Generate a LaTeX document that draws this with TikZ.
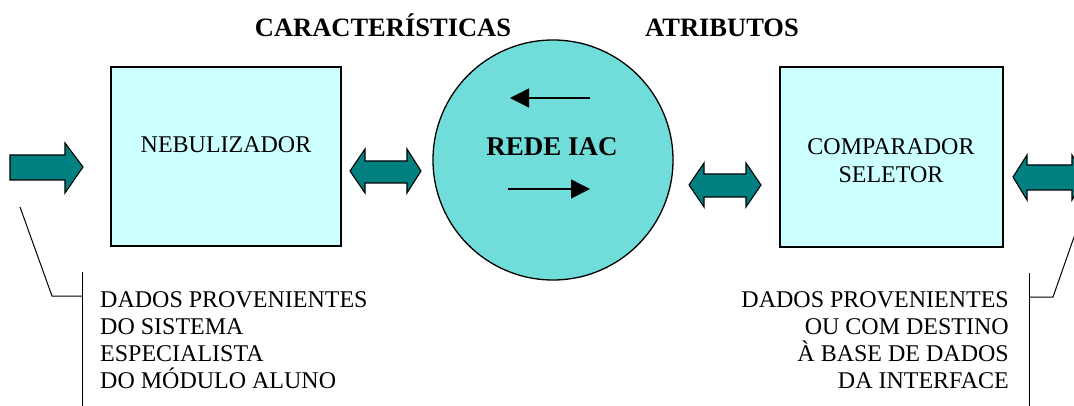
\documentclass[tikz,border=0pt]{standalone}
\usepackage{fontspec}
\setmainfont{Liberation Serif}
\usetikzlibrary{arrows.meta}
\definecolor{boxfill}{RGB}{204,255,255}
\definecolor{netfill}{RGB}{112,221,219}
\definecolor{teal2}{RGB}{0,128,128}
\tikzset{
  box/.style={draw=black, line width=1.3pt, fill=boxfill},
  blockarrow/.style={draw=black, line width=1.1pt, fill=teal2, line join=miter},
  callout/.style={draw=black, line width=1pt},
  lbl/.style={font=\fontsize{24}{27}\selectfont, inner sep=0pt},
  title/.style={font=\fontsize{26.5}{30}\selectfont\bfseries, inner sep=0pt},
  flow/.style={draw=black, line width=1.3pt, -{Triangle[length=19pt,width=19pt]}}
}
\begin{document}
\begin{tikzpicture}[x=1pt,y=-1pt]
\useasboundingbox (0,0) rectangle (1074,406);
\begin{scope}
\clip (0,0) rectangle (1074,406);
% titles
\node[title, anchor=base] (tc) at (383,37) {CARACTERÍSTICAS};
\node[title, anchor=base] (ta) at (722,37) {ATRIBUTOS};
% boxes
\draw[box] (111,67) rectangle (341,246);
\node[lbl, anchor=base] (neb) at (226,153) {NEBULIZADOR};
\draw[box] (780,67) rectangle (1003,247);
\node[lbl, anchor=base] (comp) at (891,155) {COMPARADOR};
\node[lbl, anchor=base] (sel) at (891,183) {SELETOR};
% network circle
\draw[box, fill=netfill] (553,160) circle[radius=120];
\node[title, font=\fontsize{27}{30}\selectfont\bfseries, anchor=base] (rede) at (552,156) {REDE IAC};
\coordinate (la1) at (590,98); \coordinate (la2) at (510,98);
\coordinate (ra1) at (508,189); \coordinate (ra2) at (590,189);
\draw[flow] (la1) -- (la2);
\draw[flow] (ra1) -- (ra2);
% input arrow (left)
\draw[blockarrow] (10,155) -- (65,155) -- (65,143) -- (83,167) -- (65,193) -- (65,180) -- (10,180) -- cycle;
% double arrow 1
\draw[blockarrow] (350,171) -- (365,149) -- (365,161) -- (407,161) -- (407,149) -- (421,171) -- (407,193) -- (407,183) -- (365,183) -- (365,193) -- cycle;
% double arrow 2
\draw[blockarrow] (689,185) -- (704,163) -- (704,174) -- (746,174) -- (746,163) -- (761,185) -- (746,207) -- (746,197) -- (704,197) -- (704,207) -- cycle;
% double arrow 3 (clipped at right)
\draw[blockarrow] (1013,177) -- (1027,155) -- (1027,165) -- (1072,165) -- (1072,155) -- (1086,177) -- (1072,200) -- (1072,190) -- (1027,190) -- (1027,200) -- cycle;
% callouts left
\coordinate (c1) at (20,207);
\coordinate (c2) at (52,296);
\coordinate (c3) at (82,296);
\coordinate (v1) at (82,272);
\coordinate (v2) at (82,406);
\draw[callout] (c1) -- (c2) -- (c3);
\draw[callout] (v1) -- (v2);
\node[lbl, anchor=base west] (l1) at (100,307) {DADOS PROVENIENTES};
\node[lbl, anchor=base west] (l2) at (100,334) {DO SISTEMA};
\node[lbl, anchor=base west] (l3) at (100,361) {ESPECIALISTA};
\node[lbl, anchor=base west] (l4) at (100,388) {DO MÓDULO ALUNO};
% callouts right
\coordinate (d1) at (1080,220);
\coordinate (d2) at (1053,297);
\coordinate (d3) at (1029,297);
\coordinate (w1) at (1029,273);
\coordinate (w2) at (1029,406);
\draw[callout] (d1) -- (d2) -- (d3);
\draw[callout] (w1) -- (w2);
\node[lbl, anchor=base east] (r1) at (1009,307) {DADOS PROVENIENTES};
\node[lbl, anchor=base east] (r2) at (1009,334) {OU COM DESTINO};
\node[lbl, anchor=base east] (r3) at (1009,361) {À BASE DE DADOS};
\node[lbl, anchor=base east] (r4) at (1009,388) {DA INTERFACE};
\end{scope}
\end{tikzpicture}
\end{document}
